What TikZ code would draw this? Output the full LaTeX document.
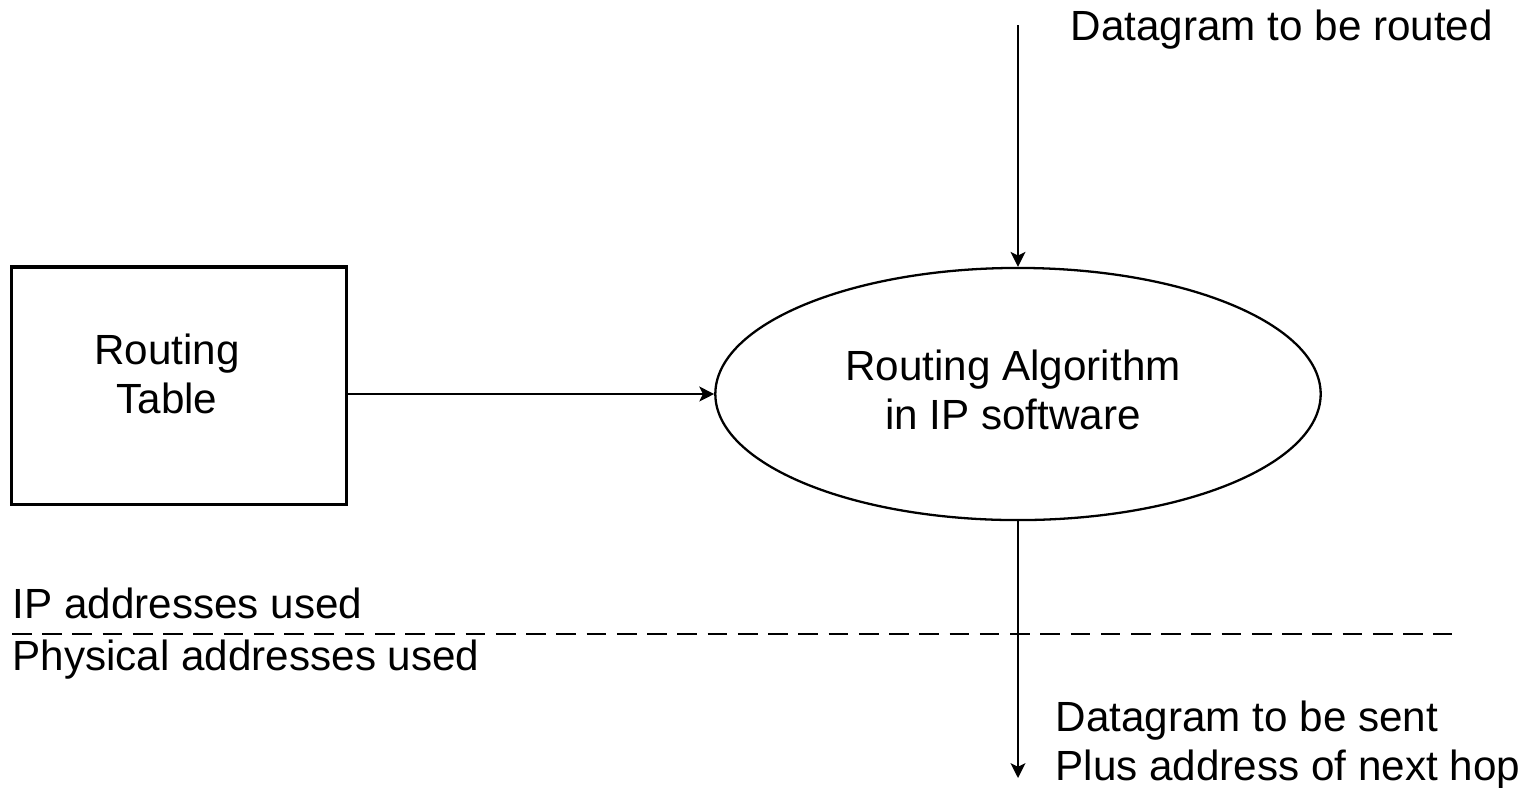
\documentclass[tikz,border=0pt]{standalone}
\usepackage{fontspec}
\setmainfont{Liberation Sans}
\usetikzlibrary{shapes.geometric,arrows.meta}
\begin{document}
\begin{tikzpicture}[x=0.01cm,y=-0.01cm,
  every node/.style={font=\fontsize{12}{14}\selectfont, inner sep=0pt},
  flow/.style={draw=black, line width=0.65pt, -{Stealth[length=4.2pt,width=4.2pt,inset=1pt]}},
  divider/.style={draw=black, line width=0.65pt, dash pattern=on 5.6pt off 3pt}
]
\useasboundingbox (0,0) rectangle (1530,787);

% routing table box and its label
\node[draw=black, line width=0.9pt, rectangle, minimum width=3.34cm, minimum height=2.37cm] (table) at (179,385.5) {};
\node[align=center] (tablelbl) at (167,374) {Routing\\Table};

% routing algorithm ellipse
\node[draw=black, line width=0.65pt, ellipse, minimum width=6.05cm, minimum height=2.52cm] (algo) at (1018,394) {};
\node[align=center] (algolbl) at (1013,390) {Routing Algorithm\\in IP software};

% incoming datagram
\coordinate (in) at (1018,25);
\node[anchor=base west] (inlbl) at (1070,40) {Datagram to be routed};

% outgoing datagram
\coordinate (out) at (1018,778);
\node[anchor=base west] (outlbl) at (1055,731) {Datagram to be sent};
\node[anchor=base west] (outlbl2) at (1055,780) {Plus address of next hop};

% connectors
\draw[flow] (in) -- (algo.north);
\draw[flow] (table.east |- algo.west) -- (algo.west);
\draw[flow] (algo.south) -- (out);

% address layer divider
\coordinate (divL) at (12,634);
\coordinate (divR) at (1452,634);
\draw[divider] (divL) -- (divR);
\node[anchor=base west] (iplbl) at (12,618) {IP addresses used};
\node[anchor=base west] (physlbl) at (12,670) {Physical addresses used};
\end{tikzpicture}
\end{document}
